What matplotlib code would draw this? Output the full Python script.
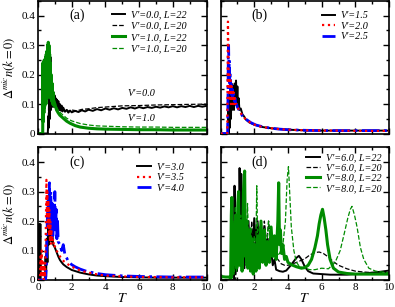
import numpy as np
import matplotlib
matplotlib.use("Agg")
import matplotlib.pyplot as plt
from matplotlib.ticker import MultipleLocator, FuncFormatter

plt.rcParams['font.family'] = ['Liberation Serif', 'DejaVu Serif']
plt.rcParams['mathtext.fontset'] = 'stix'

# ==== data: (T, value) pairs ====
# panel (a)
a_v0_L22 = [(0, 0), (0.58, 0), (0.62, 0.06), (0.65, 0.02), (0.68, 0.2), (0.71, 0.05), (0.74, 0.26),
            (0.77, 0.08), (0.80, 0.17), (0.83, 0.09), (0.86, 0.15), (0.89, 0.10), (0.92, 0.14), (0.95, 0.09),
            (0.98, 0.13), (1.01, 0.10), (1.05, 0.12), (1.09, 0.085), (1.13, 0.115), (1.17, 0.09), (1.21, 0.11),
            (1.25, 0.08), (1.30, 0.10), (1.35, 0.078), (1.40, 0.095), (1.45, 0.075), (1.50, 0.088), (1.60, 0.074),
            (1.70, 0.08), (1.80, 0.071), (1.90, 0.078), (2.0, 0.072), (2.2, 0.077), (2.4, 0.073), (2.6, 0.079),
            (2.8, 0.075), (3.0, 0.081), (3.25, 0.077), (3.5, 0.083), (3.75, 0.079), (4.0, 0.085), (4.25, 0.081),
            (4.5, 0.086), (4.75, 0.082), (5.0, 0.087), (5.25, 0.084), (5.5, 0.089), (5.75, 0.085), (6.0, 0.09),
            (6.25, 0.086), (6.5, 0.09), (6.75, 0.087), (7.0, 0.091), (7.25, 0.088), (7.5, 0.092), (7.75, 0.089),
            (8.0, 0.093), (8.25, 0.089), (8.5, 0.093), (8.75, 0.09), (9.0, 0.094), (9.25, 0.09), (9.5, 0.094),
            (9.75, 0.091), (10.0, 0.094)]
a_v0_L20 = [(0, 0), (0.6, 0), (0.63, 0.1), (0.66, 0.03), (0.69, 0.18), (0.72, 0.06), (0.75, 0.22), (0.78, 0.1),
            (0.81, 0.16), (0.84, 0.1), (0.87, 0.14), (0.9, 0.1), (0.94, 0.13), (0.98, 0.1), (1.02, 0.12),
            (1.07, 0.09), (1.12, 0.11), (1.18, 0.088), (1.24, 0.1), (1.3, 0.085), (1.4, 0.092), (1.5, 0.08),
            (1.65, 0.084), (1.8, 0.076), (2.0, 0.08), (2.3, 0.077), (2.6, 0.082), (3.0, 0.084), (3.5, 0.088),
            (4.0, 0.09), (4.5, 0.092), (5.0, 0.094), (6.0, 0.095), (7.0, 0.097), (8.0, 0.098), (9.0, 0.099),
            (10.0, 0.1)]
a_v1_L22 = [(0, 0), (0.28, 0), (0.29, 0.24), (0.31, 0.04), (0.33, 0.22), (0.35, 0.07), (0.37, 0.25), (0.39, 0.09),
            (0.41, 0.23), (0.43, 0.11), (0.45, 0.26), (0.47, 0.1), (0.49, 0.27), (0.51, 0.13), (0.53, 0.28),
            (0.55, 0.12), (0.57, 0.3), (0.59, 0.14), (0.61, 0.31), (0.63, 0.15), (0.65, 0.3), (0.67, 0.13),
            (0.69, 0.27), (0.71, 0.13), (0.73, 0.24), (0.75, 0.12), (0.78, 0.2), (0.81, 0.11), (0.84, 0.17),
            (0.87, 0.1), (0.9, 0.14), (0.95, 0.095), (1.0, 0.1), (1.1, 0.08), (1.2, 0.07), (1.3, 0.062),
            (1.5, 0.052), (1.7, 0.042), (1.9, 0.035), (2.2, 0.027), (2.5, 0.022), (3.0, 0.018), (3.5, 0.016),
            (4.0, 0.015), (5.0, 0.014), (6.0, 0.013), (7.0, 0.013), (8.0, 0.012), (9.0, 0.012), (10.0, 0.012)]
a_v1_L20 = [(0, 0), (0.3, 0), (0.31, 0.2), (0.34, 0.06), (0.37, 0.22), (0.4, 0.1), (0.44, 0.24), (0.48, 0.12),
            (0.52, 0.26), (0.56, 0.14), (0.6, 0.28), (0.64, 0.15), (0.68, 0.25), (0.72, 0.14), (0.76, 0.2),
            (0.8, 0.13), (0.85, 0.16), (0.9, 0.12), (1.0, 0.11), (1.1, 0.09), (1.2, 0.08), (1.3, 0.072),
            (1.5, 0.062), (1.7, 0.052), (2.0, 0.043), (2.5, 0.034), (3.0, 0.029), (3.5, 0.026), (4.0, 0.025),
            (5.0, 0.023), (6.0, 0.022), (7.0, 0.022), (8.0, 0.021), (9.0, 0.021), (10.0, 0.021)]

# panel (b)
b_v15 = [(0, 0), (0.45, 0), (0.47, 0.1), (0.5, 0.0), (0.53, 0.14), (0.56, 0.02), (0.59, 0.16), (0.62, 0.05),
         (0.65, 0.17), (0.68, 0.08), (0.71, 0.15), (0.74, 0.09), (0.77, 0.16), (0.8, 0.08), (0.84, 0.17),
         (0.88, 0.1), (0.92, 0.18), (0.96, 0.1), (1.0, 0.16), (1.04, 0.09), (1.08, 0.12), (1.12, 0.08),
         (1.2, 0.085), (1.3, 0.065), (1.4, 0.058), (1.5, 0.048), (1.7, 0.038), (2.0, 0.03), (2.5, 0.022),
         (3.0, 0.018), (3.5, 0.015), (4.0, 0.013), (5.0, 0.011), (6.0, 0.01), (7.0, 0.01), (8.0, 0.01),
         (9.0, 0.01), (10.0, 0.01)]
b_v20 = [(0, 0), (0.4, 0), (0.42, 0.2), (0.44, 0.38), (0.46, 0.3), (0.48, 0.2), (0.5, 0.12), (0.53, 0.2),
         (0.56, 0.11), (0.59, 0.18), (0.62, 0.1), (0.65, 0.16), (0.68, 0.11), (0.71, 0.15), (0.74, 0.1),
         (0.77, 0.14), (0.8, 0.1), (0.85, 0.12), (0.9, 0.1), (0.95, 0.1), (1.0, 0.09), (1.1, 0.08), (1.2, 0.07),
         (1.3, 0.06), (1.5, 0.048), (1.8, 0.036), (2.1, 0.028), (2.5, 0.022), (3.0, 0.018), (3.5, 0.015),
         (4.0, 0.013), (5.0, 0.011), (6.0, 0.01), (7.0, 0.01), (8.0, 0.009), (9.0, 0.009), (10.0, 0.009)]
b_v25 = [(0, 0), (0.42, 0), (0.44, 0.12), (0.46, 0.26), (0.48, 0.3), (0.5, 0.2), (0.52, 0.25), (0.55, 0.17),
         (0.58, 0.2), (0.61, 0.14), (0.64, 0.17), (0.67, 0.13), (0.7, 0.15), (0.74, 0.12), (0.78, 0.135),
         (0.82, 0.11), (0.86, 0.12), (0.9, 0.1), (0.95, 0.1), (1.0, 0.09), (1.1, 0.08), (1.2, 0.07), (1.3, 0.06),
         (1.5, 0.049), (1.8, 0.037), (2.1, 0.029), (2.5, 0.023), (3.0, 0.018), (3.5, 0.015), (4.0, 0.013),
         (5.0, 0.011), (6.0, 0.01), (7.0, 0.01), (8.0, 0.01), (9.0, 0.01), (10.0, 0.01)]

# panel (c)
c_v30 = [(0, 0), (0.04, 0), (0.06, 0.19), (0.08, 0.0), (0.1, 0.18), (0.12, 0.01), (0.14, 0.19), (0.16, 0.0),
         (0.42, 0), (0.45, 0.08), (0.48, 0.01), (0.52, 0.14), (0.56, 0.06), (0.6, 0.2), (0.64, 0.12),
         (0.68, 0.24), (0.72, 0.15), (0.76, 0.2), (0.8, 0.13), (0.85, 0.16), (0.9, 0.12), (1.0, 0.11),
         (1.1, 0.095), (1.2, 0.08), (1.3, 0.068), (1.4, 0.06), (1.5, 0.053), (1.7, 0.044), (2.0, 0.034),
         (2.5, 0.025), (3.0, 0.019), (3.5, 0.015), (4.0, 0.013), (5.0, 0.01), (6.0, 0.009), (7.0, 0.008),
         (8.0, 0.008), (9.0, 0.008), (10.0, 0.008)]
c_v35 = [(0, 0), (0.12, 0), (0.15, 0.08), (0.18, 0.02), (0.22, 0.1), (0.26, 0.01), (0.3, 0.06), (0.34, 0.0),
         (0.38, 0.05), (0.42, 0.01), (0.46, 0.15), (0.5, 0.34), (0.53, 0.22), (0.56, 0.3), (0.59, 0.18),
         (0.62, 0.27), (0.65, 0.15), (0.68, 0.24), (0.71, 0.13), (0.74, 0.2), (0.77, 0.12), (0.8, 0.17),
         (0.85, 0.13), (0.9, 0.14), (0.95, 0.11), (1.0, 0.115), (1.1, 0.1), (1.2, 0.09), (1.3, 0.08),
         (1.4, 0.072), (1.5, 0.065), (1.7, 0.056), (2.0, 0.045), (2.3, 0.037), (2.7, 0.029), (3.0, 0.025),
         (3.5, 0.019), (4.0, 0.015), (5.0, 0.012), (6.0, 0.01), (7.0, 0.01), (8.0, 0.009), (9.0, 0.009),
         (10.0, 0.009)]
c_v40 = [(0, 0), (0.45, 0), (0.5, 0.05), (0.55, 0.2), (0.6, 0.28), (0.64, 0.18), (0.68, 0.33), (0.72, 0.2),
         (0.76, 0.3), (0.8, 0.17), (0.84, 0.26), (0.88, 0.15), (0.92, 0.25), (0.96, 0.17), (1.0, 0.3),
         (1.04, 0.16), (1.08, 0.24), (1.12, 0.14), (1.16, 0.2), (1.2, 0.13), (1.3, 0.12), (1.4, 0.1),
         (1.5, 0.12), (1.6, 0.085), (1.7, 0.075), (1.8, 0.063), (2.0, 0.052), (2.2, 0.045), (2.5, 0.037),
         (2.8, 0.031), (3.0, 0.028), (3.5, 0.022), (4.0, 0.018), (5.0, 0.014), (6.0, 0.012), (7.0, 0.011),
         (8.0, 0.01), (9.0, 0.01), (10.0, 0.01)]

# panel (d)
d_v6_L22 = [(0, 0), (0.8, 0), (0.83, 0.32), (0.87, 0.02), (0.92, 0.15), (0.97, 0.03), (1.05, 0.25), (1.1, 0.05),
            (1.13, 0.38), (1.18, 0.1), (1.23, 0.36), (1.28, 0.05), (1.35, 0.2), (1.42, 0.04), (1.5, 0.18),
            (1.58, 0.06), (1.66, 0.2), (1.74, 0.08), (1.82, 0.17), (1.9, 0.1), (2.0, 0.21), (2.1, 0.12),
            (2.2, 0.2), (2.3, 0.1), (2.4, 0.19), (2.5, 0.1), (2.6, 0.17), (2.7, 0.08), (2.8, 0.14), (2.9, 0.07),
            (3.0, 0.1), (3.1, 0.05), (3.2, 0.07), (3.3, 0.035), (3.5, 0.03), (3.7, 0.028), (3.9, 0.032),
            (4.1, 0.045), (4.3, 0.06), (4.5, 0.075), (4.65, 0.082), (4.8, 0.07), (5.0, 0.045), (5.2, 0.03),
            (5.5, 0.022), (6.0, 0.02), (6.5, 0.018), (7.0, 0.018), (7.5, 0.018), (8.0, 0.02), (8.5, 0.022),
            (9.0, 0.025), (9.5, 0.028), (10.0, 0.032)]
d_v6_L20 = [(0, 0), (0.9, 0), (0.95, 0.2), (1.0, 0.03), (1.08, 0.22), (1.15, 0.05), (1.25, 0.18), (1.35, 0.06),
            (1.45, 0.16), (1.55, 0.07), (1.65, 0.19), (1.75, 0.08), (1.85, 0.2), (1.95, 0.1), (2.05, 0.17),
            (2.15, 0.09), (2.3, 0.16), (2.45, 0.1), (2.6, 0.2), (2.75, 0.12), (2.85, 0.2), (3.0, 0.12),
            (3.1, 0.14), (3.25, 0.08), (3.4, 0.07), (3.6, 0.055), (3.8, 0.05), (4.0, 0.05), (4.3, 0.055),
            (4.6, 0.062), (5.0, 0.072), (5.3, 0.085), (5.6, 0.093), (5.85, 0.095), (6.1, 0.09), (6.4, 0.078),
            (6.7, 0.062), (7.0, 0.05), (7.5, 0.038), (8.0, 0.03), (8.5, 0.027), (9.0, 0.025), (9.5, 0.025),
            (10.0, 0.025)]
d_v8_L22 = [(0, 0.012), (0.3, 0.01), (0.55, 0.01), (0.6, 0.0), (0.64, 0.22), (0.67, 0.28), (0.7, 0.02),
            (0.76, 0.18), (0.82, 0.05), (0.9, 0.22), (0.96, 0.04), (1.03, 0.26), (1.07, 0.3), (1.12, 0.05),
            (1.2, 0.2), (1.28, 0.03), (1.36, 0.3), (1.43, 0.37), (1.48, 0.08), (1.55, 0.2), (1.62, 0.04),
            (1.7, 0.17), (1.78, 0.03), (1.86, 0.14), (1.94, 0.02), (2.02, 0.12), (2.1, 0.03), (2.2, 0.15),
            (2.3, 0.04), (2.4, 0.2), (2.5, 0.06), (2.6, 0.17), (2.7, 0.05), (2.8, 0.13), (2.9, 0.06), (3.0, 0.18),
            (3.1, 0.08), (3.2, 0.15), (3.3, 0.07), (3.4, 0.2), (3.45, 0.33), (3.5, 0.12), (3.55, 0.17),
            (3.62, 0.09), (3.7, 0.12), (3.8, 0.07), (3.9, 0.08), (4.0, 0.06), (4.2, 0.052), (4.5, 0.045),
            (4.8, 0.04), (5.0, 0.042), (5.2, 0.05), (5.4, 0.07), (5.6, 0.11), (5.75, 0.15), (5.85, 0.19),
            (5.95, 0.22), (6.05, 0.24), (6.15, 0.21), (6.25, 0.17), (6.35, 0.12), (6.5, 0.07), (6.7, 0.04),
            (7.0, 0.027), (7.5, 0.022), (8.0, 0.02), (8.5, 0.02), (9.0, 0.02), (9.5, 0.02), (10.0, 0.02)]
d_v8_L20 = [(0, 0), (0.7, 0), (0.75, 0.2), (0.8, 0.02), (0.88, 0.25), (0.95, 0.03), (1.02, 0.3), (1.1, 0.05),
            (1.2, 0.22), (1.3, 0.04), (1.4, 0.2), (1.5, 0.05), (1.6, 0.26), (1.7, 0.06), (1.8, 0.18), (1.9, 0.05),
            (2.0, 0.15), (2.08, 0.06), (2.15, 0.32), (2.22, 0.08), (2.3, 0.18), (2.4, 0.07), (2.55, 0.15),
            (2.7, 0.08), (2.85, 0.2), (3.0, 0.1), (3.15, 0.14), (3.3, 0.08), (3.5, 0.09), (3.7, 0.12),
            (3.85, 0.2), (3.95, 0.34), (4.03, 0.385), (4.1, 0.3), (4.2, 0.18), (4.35, 0.1), (4.5, 0.06),
            (4.7, 0.045), (5.0, 0.04), (5.3, 0.035), (5.6, 0.035), (6.0, 0.04), (6.4, 0.038), (6.8, 0.06),
            (7.1, 0.1), (7.35, 0.16), (7.55, 0.21), (7.7, 0.24), (7.8, 0.25), (7.95, 0.22), (8.1, 0.18),
            (8.3, 0.11), (8.5, 0.07), (8.8, 0.04), (9.2, 0.03), (9.6, 0.027), (10.0, 0.025)]

GREEN = '#008b00'
leg_font = {'family': 'Liberation Serif', 'style': 'italic', 'size': 7.3}


def xy(pairs):
    arr = np.array(pairs)
    return arr[:, 0], arr[:, 1]


fig, axes = plt.subplots(2, 2, figsize=(3.95, 3.07), dpi=100)
fig.subplots_adjust(left=0.0962, right=0.985, top=0.9967, bottom=0.088, wspace=0.083, hspace=0.105)
ax_a, ax_b, ax_c, ax_d = axes.ravel()

# ---- (a) ----
ax_a.plot(*xy(a_v0_L22), color='black', lw=1.4, label="V'=0.0, L=22")
ax_a.plot(*xy(a_v0_L20), color='black', lw=0.9, ls='--', label="V'=0.0, L=20")
ax_a.plot(*xy(a_v1_L22), color=GREEN, lw=2.2, label="V'=1.0, L=22")
ax_a.plot(*xy(a_v1_L20), color=GREEN, lw=0.9, ls='--', label="V'=1.0, L=20")
ax_a.text(5.3, 0.135, "V'=0.0", fontdict=leg_font, va='center')
ax_a.text(5.3, 0.05, "V'=1.0", fontdict=leg_font, va='center')

# ---- (b) ----
ax_b.plot(*xy(b_v15), color='black', lw=1.4, label="V'=1.5")
ax_b.plot(*xy(b_v20), color='red', lw=1.6, ls=':', label="V'=2.0", zorder=4)
ax_b.plot(*xy(b_v25), color='blue', lw=2.0, ls='-.', label="V'=2.5", zorder=3)

# ---- (c) ----
ax_c.plot(*xy(c_v30), color='black', lw=1.4, label="V'=3.0")
ax_c.plot(*xy(c_v35), color='red', lw=1.6, ls=':', label="V'=3.5", zorder=4)
ax_c.plot(*xy(c_v40), color='blue', lw=2.0, ls='-.', label="V'=4.0", zorder=3)

# ---- (d) ----
ax_d.plot(*xy(d_v6_L22), color='black', lw=1.4, label="V'=6.0, L=22")
ax_d.plot(*xy(d_v6_L20), color='black', lw=0.9, ls='--', label="V'=6.0, L=20")
ax_d.plot(*xy(d_v8_L22), color=GREEN, lw=2.2, label="V'=8.0, L=22")
ax_d.plot(*xy(d_v8_L20), color=GREEN, lw=0.9, ls='--', label="V'=8.0, L=20")

yfmt = FuncFormatter(lambda v, p: '0' if abs(v) < 1e-9 else f'{v:.1f}')
for ax, tag in zip([ax_a, ax_b, ax_c, ax_d], ['(a)', '(b)', '(c)', '(d)']):
    ax.set_xlim(0, 10)
    ax.set_ylim(0, 0.45)
    ax.xaxis.set_major_locator(MultipleLocator(2))
    ax.xaxis.set_minor_locator(MultipleLocator(1))
    ax.yaxis.set_major_locator(MultipleLocator(0.1))
    ax.yaxis.set_minor_locator(MultipleLocator(0.05))
    ax.yaxis.set_major_formatter(yfmt)
    ax.tick_params(which='both', direction='in', top=True, right=True, labelsize=8, pad=2)
    ax.tick_params(which='major', length=4, width=1)
    ax.tick_params(which='minor', length=2, width=1)
    for s in ax.spines.values():
        s.set_linewidth(1.2)
    ax.text(2.3, 0.40, tag, fontsize=10, ha='center', va='center')

ax_a.tick_params(labelbottom=False)
ax_b.tick_params(labelbottom=False, labelleft=False)
ax_d.tick_params(labelleft=False)

for ax in [ax_a, ax_c]:
    ax.set_ylabel(r'$\Delta^{mic}n(k{=}0)$', fontsize=9, labelpad=3)
for ax in [ax_c, ax_d]:
    ax.set_xlabel(r'$T$', fontsize=10, labelpad=0)

leg_kw = dict(frameon=False, prop=leg_font, handlelength=1.3, handletextpad=0.6,
              borderpad=0, borderaxespad=0, loc='upper left')
ax_a.legend(bbox_to_anchor=(0.44, 0.93), labelspacing=0.22, **leg_kw)
ax_b.legend(bbox_to_anchor=(0.60, 0.925), labelspacing=0.15, **leg_kw)
ax_c.legend(bbox_to_anchor=(0.59, 0.885), labelspacing=0.15, **leg_kw)
ax_d.legend(bbox_to_anchor=(0.51, 0.955), labelspacing=0.1, **leg_kw)

plt.savefig('out.png', dpi=100)
